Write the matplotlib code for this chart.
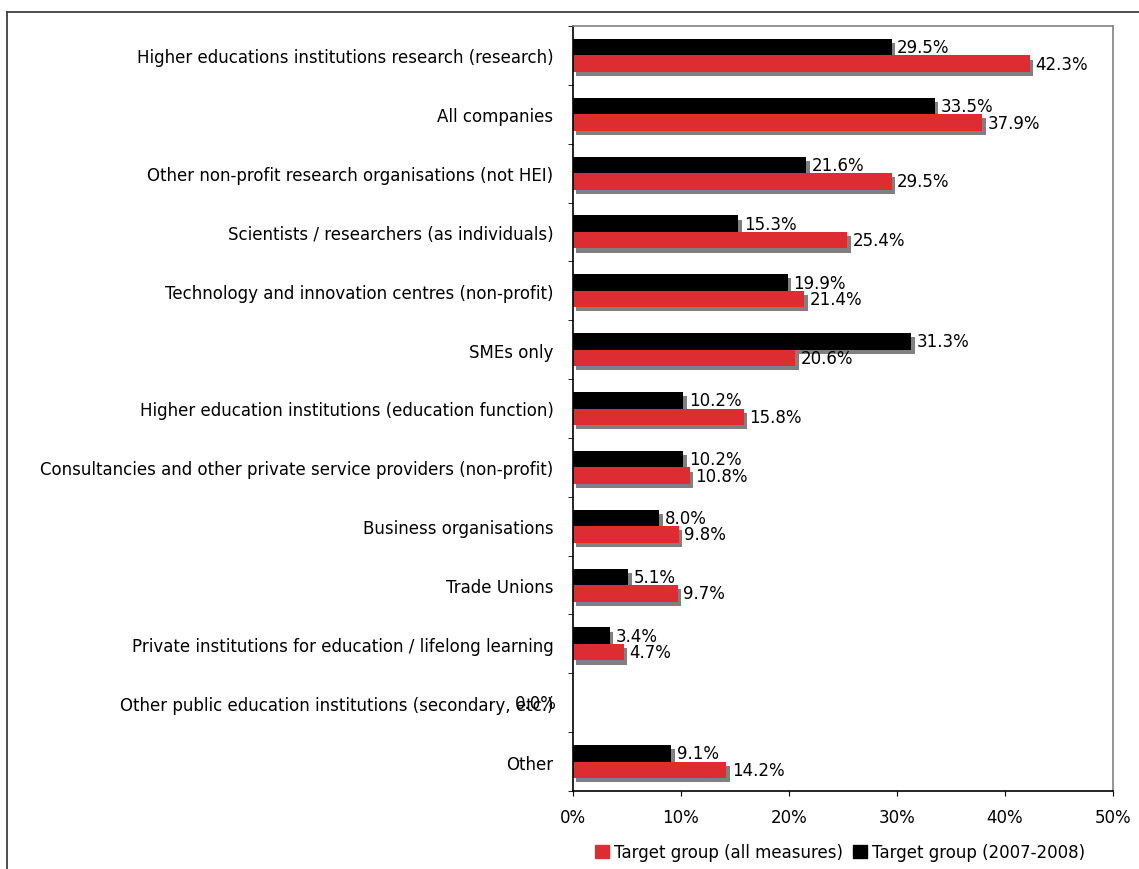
import numpy as np
import matplotlib.pyplot as plt
import matplotlib.patheffects as pe
from matplotlib.patches import Patch
from matplotlib.lines import Line2D
from matplotlib.ticker import FuncFormatter, FixedLocator

categories = [
    "Higher educations institutions research (research)",
    "All companies",
    "Other non-profit research organisations (not HEI)",
    "Scientists / researchers (as individuals)",
    "Technology and innovation centres (non-profit)",
    "SMEs only",
    "Higher education institutions (education function)",
    "Consultancies and other private service providers (non-profit)",
    "Business organisations",
    "Trade Unions",
    "Private institutions for education / lifelong learning",
    "Other public education institutions (secondary, etc.)",
    "Other",
]
all_measures = [42.3, 37.9, 29.5, 25.4, 21.4, 20.6, 15.8, 10.8, 9.8, 9.7, 4.7, 0.0, 14.2]
period_2007_2008 = [29.5, 33.5, 21.6, 15.3, 19.9, 31.3, 10.2, 10.2, 8.0, 5.1, 3.4, 0.0, 9.1]

RED = "#DE2C33"
BLACK = "#000000"
SHADOW = "#808080"
FS = 12

plt.rcParams["font.family"] = ["DejaVu Sans"]
plt.rcParams["font.size"] = FS

fig = plt.figure(figsize=(11.39, 8.70), dpi=100)
ax = fig.add_axes([573 / 1139, 78 / 870, 540 / 1139, 765 / 870])

y = np.arange(len(categories))
h = 0.28
shadow = [pe.SimplePatchShadow(offset=(2.5, -3), shadow_rgbFace=SHADOW, alpha=1.0), pe.Normal()]

black_bars = ax.barh(y - h / 2, np.array(period_2007_2008) / 100, height=h, color=BLACK, linewidth=0)
red_bars = ax.barh(y + h / 2, np.array(all_measures) / 100, height=h, color=RED, linewidth=0)
for b in list(black_bars) + list(red_bars):
    if b.get_width() > 0:
        b.set_path_effects(shadow)

# value labels next to the bars
for yi, v in zip(y, period_2007_2008):
    if v > 0:
        ax.annotate(f"{v:.1f}%", (v / 100, yi - h / 2), xytext=(4.0, 0),
                    textcoords="offset points", va="center", ha="left", fontsize=FS)
for yi, v in zip(y, all_measures):
    if v > 0:
        ax.annotate(f"{v:.1f}%", (v / 100, yi + h / 2), xytext=(4.0, 0),
                    textcoords="offset points", va="center", ha="left", fontsize=FS)
    else:
        # zero-width bars: label sits left of the axis
        ax.annotate(f"{v:.1f}%", (0, yi), xytext=(-11.5, 0),
                    textcoords="offset points", va="center", ha="right", fontsize=FS)

ax.set_xlim(0, 0.5)
ax.set_ylim(len(categories) - 0.5, -0.5)
ax.set_xticks(np.arange(0, 0.51, 0.1))
ax.xaxis.set_major_formatter(FuncFormatter(lambda v, p: f"{v * 100:.0f}%"))
ax.tick_params(axis="x", direction="out", length=3.6, pad=8.5, labelsize=FS)

ax.set_yticks(y)
ax.set_yticklabels(categories)
ax.yaxis.set_minor_locator(FixedLocator(np.arange(-0.5, len(categories), 1.0)))
ax.tick_params(axis="y", which="major", length=0, pad=14, labelsize=FS)
ax.tick_params(axis="y", which="minor", direction="out", length=3.6)

ax.spines["top"].set_color(SHADOW)
ax.spines["right"].set_color(SHADOW)
for s in ax.spines.values():
    s.set_linewidth(1.2)

# outer frame (left and top edges)
fx = 6.5 / 1139
fy = 1 - 12.5 / 870
fig.add_artist(Line2D([fx, fx], [0, fy], transform=fig.transFigure, color="#404040", lw=1.3))
fig.add_artist(Line2D([fx, 1], [fy, fy], transform=fig.transFigure, color="#404040", lw=1.3))

handles = [Patch(color=RED), Patch(color=BLACK)]
fig.legend(handles, ["Target group (all measures)", "Target group (2007-2008)"],
           loc="center", bbox_to_anchor=(840 / 1139, 1 - 853 / 870), ncol=2, frameon=False,
           handlelength=0.85, handleheight=0.85, handletextpad=0.3, columnspacing=0.6,
           fontsize=FS, borderpad=0, borderaxespad=0)

fig.savefig("out.png", dpi=100)
